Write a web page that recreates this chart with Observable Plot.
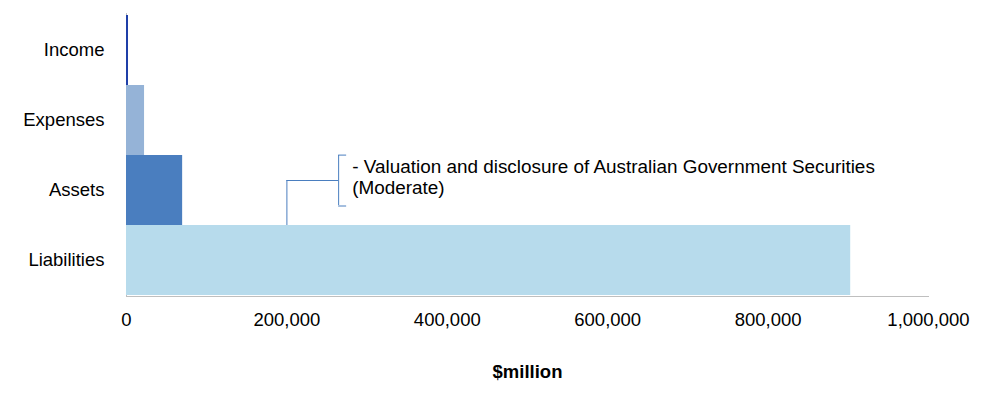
<!DOCTYPE html>
<html>
<head>
<meta charset="utf-8">
<script src="https://cdn.jsdelivr.net/npm/d3@7"></script>
<script src="https://cdn.jsdelivr.net/npm/@observablehq/plot@0.6"></script>
<style>
  html, body { margin: 0; padding: 0; background: #fff; }
  svg [aria-label="x-axis label"] text, svg text[aria-label="x-axis label"] { font-weight: bold; }
</style>
</head>
<body>
<div id="chart"></div>
<script>
const categories = ["Income", "Expenses", "Assets", "Liabilities"];
const values = [2500, 22500, 70000, 903000];
const colors = ["#1f3fa8", "#95b3d7", "#4a7ebf", "#b7dbec"];
const xTicks = [0, 200000, 400000, 600000, 800000, 1000000];
const calloutLines = ["- Valuation and disclosure of Australian Government Securities", "(Moderate)"];
const calloutAnchor = [200000];   // x where leader meets Liabilities bar
const calloutBracket = [264500];  // x of bracket
const calloutTextX = [281500];    // x of text start
const calloutCategory = ["Assets"];

const data = categories.map((c, i) => ({category: c, value: values[i], color: colors[i]}));
const callout = [{
  cat: calloutCategory[0],
  anchor: calloutAnchor[0],
  bracket: calloutBracket[0],
  tx: calloutTextX[0],
  text: calloutLines.join("\n")
}];
const stroke = "#4a7ebf";

const chart = Plot.plot({
  width: 994,
  height: 394,
  marginLeft: 126,
  marginRight: 66,
  marginTop: 13,
  marginBottom: 98,
  style: {fontFamily: "Arial, 'Liberation Sans', sans-serif", fontSize: "18.5px", color: "#000", background: "#fff"},
  x: {domain: [0, 1000000]},
  y: {domain: categories, padding: 0},
  marks: [
    Plot.ruleX([0], {stroke: "#bfbfbf", strokeWidth: 1}),
    Plot.barX(data, {x: "value", y: "category", fill: "color"}),
    Plot.frame({anchor: "bottom", stroke: "#bfbfbf", strokeWidth: 1}),
    // leader vertical from Liabilities bar top
    Plot.ruleX(callout, {x: "anchor", y1: "cat", y2: "cat", insetTop: 25, stroke, strokeWidth: 1}),
    // leader horizontal
    Plot.ruleY(callout, {y: "cat", x1: "anchor", x2: "bracket", dy: -10, stroke, strokeWidth: 1}),
    // bracket
    Plot.ruleX(callout, {x: "bracket", y1: "cat", y2: "cat", insetBottom: 20, stroke, strokeWidth: 1}),
    Plot.ruleY(callout, {y: "cat", x1: "bracket", x2: d => d.bracket + 10000, dy: -35.4, stroke, strokeWidth: 1}),
    Plot.ruleY(callout, {y: "cat", x1: "bracket", x2: d => d.bracket + 10000, dy: 15.5, stroke, strokeWidth: 1}),
    Plot.text(callout, {x: "tx", y: "cat", text: "text", textAnchor: "start", lineHeight: 1.12, dy: -14, fill: "#000", fontSize: 18.9}),
    Plot.axisY({tickSize: 0, tickPadding: 22, label: null, fontSize: 18.5}),
    Plot.axisX({ticks: xTicks, tickSize: 0, tickPadding: 16, tickFormat: d3.format(","), fontSize: 18.5,
      label: "$million", labelAnchor: "center", labelArrow: "none", labelOffset: 81})
  ]
});
document.getElementById("chart").appendChild(chart);
</script>
</body>
</html>
